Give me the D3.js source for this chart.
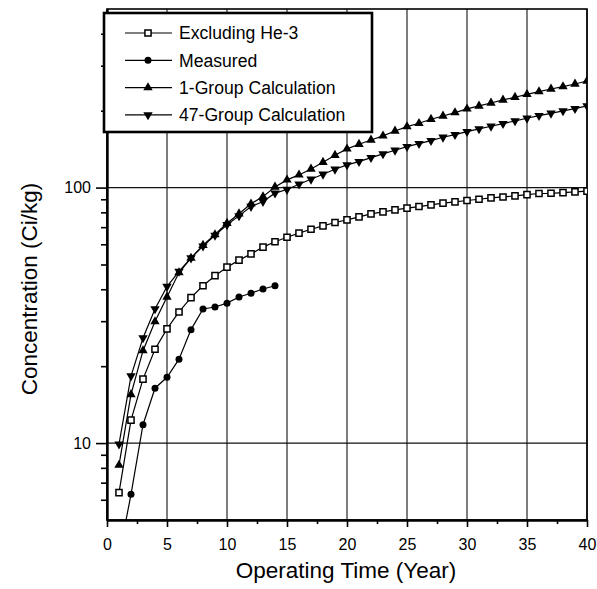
<!DOCTYPE html>
<html>
<head>
<meta charset="utf-8">
<script src="https://cdn.jsdelivr.net/npm/d3@7"></script>
<style>
body { margin: 0; background: #fff; }
svg { display: block; font-family: "Liberation Sans", Arial, sans-serif; }
.axis text { font-family: "Liberation Sans", Arial, sans-serif; }
</style>
</head>
<body>
<svg id="chart" width="597" height="589"></svg>
<script>
"use strict";

//Operating time (year) of every calculated point
var years = [1, 2, 3, 4, 5, 6, 7, 8, 9, 10, 11, 12, 13, 14, 15, 16, 17, 18, 19, 20,
             21, 22, 23, 24, 25, 26, 27, 28, 29, 30, 31, 32, 33, 34, 35, 36, 37, 38, 39, 40];

//Concentration (Ci/kg)
var excludingHe3 = [6.4, 12.3, 17.8, 23.3, 28.0, 32.6, 37.1, 41.3, 45.2, 48.8,
                    52.0, 55.0, 58.5, 61.4, 63.9, 66.3, 68.7, 70.8, 73.0, 74.8,
                    76.8, 78.9, 80.3, 81.8, 83.1, 84.3, 85.6, 86.9, 87.9, 89.0,
                    90.0, 91.1, 91.9, 92.8, 93.9, 94.8, 95.0, 95.6, 96.2, 96.8];

var group1 = [8.2, 15.5, 23.0, 29.9, 37.3, 46.5, 53.0, 59.5, 65.5, 72.5,
              79.0, 86.4, 92.2, 100.5, 107.2, 112.1, 118.3, 125.7, 133.8, 141.7,
              147.8, 153.6, 159.3, 166.6, 173.3, 178.5, 185.1, 190.7, 196.5, 203.2,
              208.7, 214.4, 220.3, 225.7, 231.8, 237.5, 243.2, 248.4, 254.4, 261.4];

var group47 = [9.9, 18.3, 25.8, 33.5, 41.0, 47.0, 53.0, 59.0, 65.0, 71.5,
               77.5, 84.3, 88.2, 95.1, 98.3, 103.1, 107.8, 112.8, 118.0, 122.7,
               126.4, 131.0, 135.5, 140.0, 144.7, 148.6, 152.7, 157.4, 161.2, 165.6,
               169.7, 173.8, 178.0, 182.3, 186.8, 191.3, 195.3, 199.5, 203.8, 208.7];

//The measured values only go up to year 14
var measuredYears = [1, 2, 3, 4, 5, 6, 7, 8, 9, 10, 11, 12, 13, 14];
var measured = [3.6, 6.3, 11.8, 16.4, 18.1, 21.3, 27.8, 33.5, 34.1, 35.3, 37.3, 38.6, 40.1, 41.3];

//Axis ticks and labels
var xTicks = [0, 5, 10, 15, 20, 25, 30, 35, 40];
var xMinorTicks = [2.5, 7.5, 12.5, 17.5, 22.5, 27.5, 32.5, 37.5];
var yTicks = [10, 100];
var yMinorTicks = [6, 7, 8, 9, 20, 30, 40, 50, 60, 70, 80, 90, 200, 300, 400];

var legendNames = ["Excluding He-3", "Measured", "1-Group Calculation", "47-Group Calculation"];

var svg = d3.select("#chart"),
    margin = {top: 9, right: 10, bottom: 69, left: 107},
    width = +svg.attr("width") - margin.left - margin.right,
    height = +svg.attr("height") - margin.top - margin.bottom,
    g = svg.append("g").attr("transform", "translate(" + margin.left + "," + margin.top + ")");

var x = d3.scaleLinear().domain([0, 40]).range([0, width]);
var y = d3.scaleLog().domain([5, 500]).range([height, 0]);

//Grid lines : vertical every 5 years, horizontal at 10 and 100
g.append("g")
    .selectAll("line.vgrid")
    .data(xTicks)
    .enter().append("line")
      .attr("class", "vgrid")
      .attr("x1", function(d) { return x(d); })
      .attr("x2", function(d) { return x(d); })
      .attr("y1", 0)
      .attr("y2", height)
      .attr("stroke", "#111")
      .attr("stroke-width", 1.1);

g.append("g")
    .selectAll("line.hgrid")
    .data(yTicks)
    .enter().append("line")
      .attr("class", "hgrid")
      .attr("x1", 0)
      .attr("x2", width)
      .attr("y1", function(d) { return y(d); })
      .attr("y2", function(d) { return y(d); })
      .attr("stroke", "#111")
      .attr("stroke-width", 1.4);

//Frame around the plot
g.append("rect")
    .attr("width", width)
    .attr("height", height)
    .attr("fill", "none")
    .attr("stroke", "#000")
    .attr("stroke-width", 1.6);

//Bottom axis : major and minor ticks
var xAxis = g.append("g")
    .attr("class", "axis")
    .attr("transform", "translate(0," + height + ")")
    .call(d3.axisBottom(x).tickValues(xTicks).tickSize(7).tickSizeOuter(0).tickPadding(12));
xAxis.select(".domain").attr("stroke-width", 2.4);
xAxis.selectAll(".tick line").attr("stroke-width", 1.6);
xAxis.selectAll("text").attr("font-size", "16px").attr("fill", "#000");

g.append("g")
    .attr("transform", "translate(0," + height + ")")
    .call(d3.axisBottom(x).tickValues(xMinorTicks).tickSize(4).tickFormat(""))
    .call(function(a) { a.select(".domain").remove(); })
    .selectAll(".tick line").attr("stroke-width", 1.6);

//Left axis : 10 and 100 are labelled, the other decades ticks are minor
var yAxis = g.append("g")
    .attr("class", "axis")
    .call(d3.axisLeft(y).tickValues(yTicks).tickSize(11).tickSizeOuter(0).tickPadding(5)
      .tickFormat(d3.format("d")));
yAxis.select(".domain").attr("stroke-width", 2.4);
yAxis.selectAll(".tick line").attr("stroke-width", 1.6);
yAxis.selectAll("text").attr("font-size", "16px").attr("fill", "#000");

g.append("g")
    .call(d3.axisLeft(y).tickValues(yMinorTicks).tickSize(6).tickFormat(""))
    .call(function(a) { a.select(".domain").remove(); })
    .selectAll(".tick line").attr("stroke-width", 1.6);

//Axis captions
svg.append("text")
    .attr("transform", "translate(37," + 289 + ") rotate(-90)")
    .attr("text-anchor", "middle")
    .attr("font-size", "22.5px")
    .text("Concentration (Ci/kg)");

svg.append("text")
    .attr("x", 346)
    .attr("y", 578)
    .attr("text-anchor", "middle")
    .attr("font-size", "22.5px")
    .text("Operating Time (Year)");

//Clip the curves to the plot area (the measured curve starts below 5)
svg.append("defs").append("clipPath")
    .attr("id", "plotClip")
  .append("rect")
    .attr("width", width)
    .attr("height", height);

var plot = g.append("g").attr("clip-path", "url(#plotClip)");

var series = [
  {name: legendNames[0], xs: years, ys: excludingHe3, marker: "square"},
  {name: legendNames[1], xs: measuredYears, ys: measured, marker: "circle"},
  {name: legendNames[2], xs: years, ys: group1, marker: "up"},
  {name: legendNames[3], xs: years, ys: group47, marker: "down"}
];

var line = d3.line()
    .x(function(d) { return x(d[0]); })
    .y(function(d) { return y(d[1]); });

//Draw one marker shape at the origin of the selection
function addMarker(sel, type){
  if(type == "square"){
    sel.append("path")
      .attr("d", d3.symbol().type(d3.symbolSquare).size(38)())
      .attr("fill", "#fff")
      .attr("stroke", "#000")
      .attr("stroke-width", 1.5);
  }else if(type == "circle"){
    sel.append("circle")
      .attr("r", 3.5)
      .attr("fill", "#000");
  }else if(type == "up"){
    sel.append("path")
      .attr("d", d3.symbol().type(d3.symbolTriangle).size(38)())
      .attr("fill", "#000");
  }else{
    sel.append("path")
      .attr("d", d3.symbol().type(d3.symbolTriangle).size(38)())
      .attr("transform", "rotate(180)")
      .attr("fill", "#000");
  }
}

series.forEach(function(s){
  var pts = s.xs.map(function(v, i) { return [v, s.ys[i]]; });
  plot.append("path")
      .datum(pts)
      .attr("fill", "none")
      .attr("stroke", "#000")
      .attr("stroke-width", 1.2)
      .attr("d", line);
  plot.append("g")
    .selectAll("g")
    .data(pts)
    .enter().append("g")
      .attr("transform", function(d) { return "translate(" + x(d[0]) + "," + y(d[1]) + ")"; })
      .each(function() { addMarker(d3.select(this), s.marker); });
});

//Legend box in the top left corner
var legend = svg.append("g").attr("transform", "translate(104,13)");
legend.append("rect")
    .attr("width", 268)
    .attr("height", 119)
    .attr("fill", "#fff")
    .attr("stroke", "#000")
    .attr("stroke-width", 2.6);

var rows = legend.selectAll("g.row")
    .data(series)
    .enter().append("g")
      .attr("class", "row")
      .attr("transform", function(d, i) { return "translate(0," + (20 + i * 27.3) + ")"; });

rows.append("line")
    .attr("x1", 21)
    .attr("x2", 68)
    .attr("stroke", "#000")
    .attr("stroke-width", 1.2);

rows.append("g")
    .attr("transform", "translate(44,0)")
    .each(function(d) { addMarker(d3.select(this), d.marker); });

rows.append("text")
    .attr("x", 75)
    .attr("dy", "0.36em")
    .attr("font-size", "17.6px")
    .text(function(d) { return d.name; });
</script>
</body>
</html>
